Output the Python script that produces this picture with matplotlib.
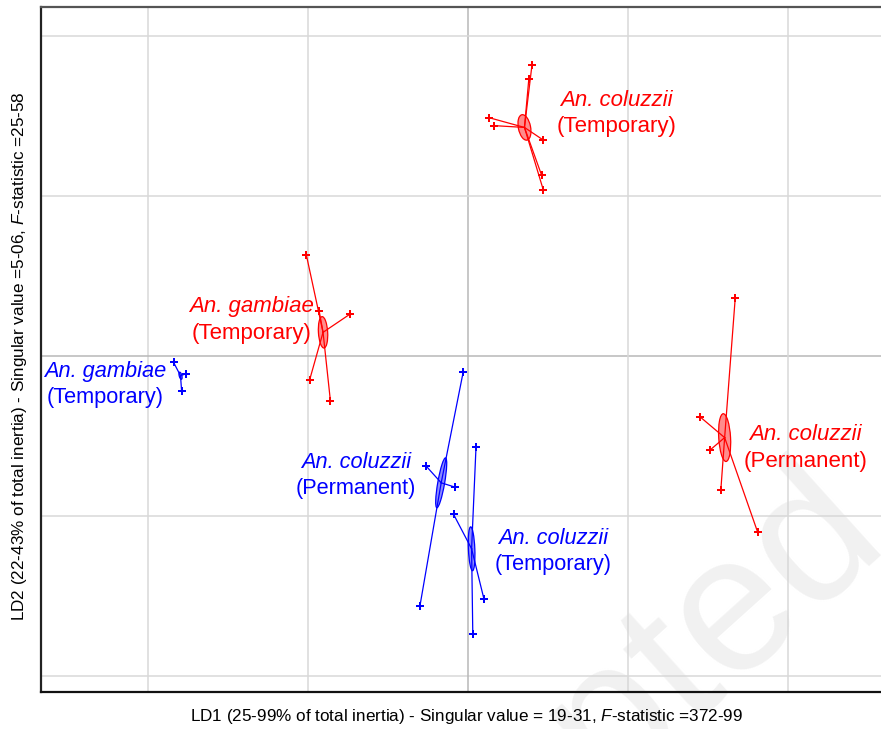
import numpy as np
import matplotlib.pyplot as plt
from matplotlib.patches import Ellipse

plt.rcParams['font.family'] = ['Liberation Sans', 'DejaVu Sans']
plt.rcParams['mathtext.fontset'] = 'custom'
plt.rcParams['mathtext.rm'] = 'Liberation Sans'
plt.rcParams['mathtext.it'] = 'Liberation Sans:italic'

# groups: species, habitat, colour of the set
species = ['An. coluzzii', 'An. gambiae', 'An. coluzzii',
           'An. gambiae', 'An. coluzzii', 'An. coluzzii']
habitat = ['Temporary', 'Temporary', 'Permanent',
           'Temporary', 'Permanent', 'Temporary']
colours = ['red', 'red', 'red', 'blue', 'blue', 'blue']

# LD1 / LD2 scores
ld1 = [[0.40, 0.38, 0.13, 0.16, 0.47, 0.46, 0.47],
       [-1.01, -0.93, -0.74, -0.99, -0.86],
       [1.67, 1.45, 1.51, 1.58, 1.81],
       [-1.84, -1.76, -1.79],
       [-0.03, -0.26, -0.08, -0.30],
       [0.05, -0.09, 0.10, 0.03]]
ld2 = [[1.82, 1.73, 1.49, 1.44, 1.35, 1.13, 1.04],
       [0.63, 0.28, 0.26, -0.15, -0.28],
       [0.36, -0.38, -0.59, -0.84, -1.10],
       [-0.04, -0.11, -0.22],
       [-0.10, -0.69, -0.82, -1.56],
       [-0.57, -0.99, -1.52, -1.74]]

# where the group labels sit
lab_x = [0.93, -1.35, 2.11, -2.27, -0.70, 0.53]
lab_y = [1.516, 0.225, -0.575, -0.18, -0.745, -1.22]

xlab = 'LD1 (25-99% of total inertia) - Singular value = 19-31, $\\mathit{F}$-statistic =372-99'
ylab = 'LD2 (22-43% of total inertia) - Singular value =5-06, $\\mathit{F}$-statistic =25-58'

fig = plt.figure(figsize=(8.81, 7.29), dpi=100)
fig.patch.set_facecolor('white')
ax = fig.add_axes([41/881, 37/729, 849/881, 685/729])
ax.patch.set_alpha(0)

# faint watermark behind everything
fig.text(1.012, 0.252, 'Accepted', rotation=42, rotation_mode='anchor',
         ha='right', va='baseline', fontsize=140, color='#f1f1f1', zorder=-1)

ax.set_xlim(-2.66875, 2.6375)
ax.set_ylim(-2.1, 2.18125)
for v in [-2, -1, 0, 1, 2]:
    c = '#b8b8b8' if v == 0 else '#d8d8d8'
    ax.axvline(v, color=c, lw=1.1, zorder=1)
    ax.axhline(v, color=c, lw=1.1, zorder=1)
ax.set_xticks([])
ax.set_yticks([])
ax.spines['right'].set_visible(False)
ax.spines['top'].set_color('#555555')
for s in ['left', 'bottom', 'top']:
    ax.spines[s].set_linewidth(1.6)
ax.spines['left'].set_color('#222222')
ax.spines['bottom'].set_color('#111111')

for i in range(len(species)):
    x = np.array(ld1[i])
    y = np.array(ld2[i])
    col = colours[i]
    cx, cy = x.mean(), y.mean()
    for px, py in zip(x, y):
        ax.plot([cx, px], [cy, py], color=col, lw=0.9, zorder=3)
    ax.plot(x, y, 'P', color=col, ms=6, mew=0, zorder=4)
    # ellipse from the group covariance
    cov = np.cov(x, y, bias=True)
    vals, vecs = np.linalg.eigh(cov)
    ang = np.degrees(np.arctan2(vecs[1, 1], vecs[0, 1]))
    w = 2 * 0.3 * np.sqrt(vals[1])
    h = 2 * 0.3 * np.sqrt(max(vals[0], 1e-6))
    ax.add_patch(Ellipse((cx, cy), w, h, angle=ang, facecolor=col, alpha=0.45,
                         edgecolor='none', zorder=3))
    ax.add_patch(Ellipse((cx, cy), w, h, angle=ang, facecolor='none',
                         edgecolor=col, lw=0.9, zorder=3))
    fs = 16 if col == 'red' else 15.7
    ax.annotate(species[i], (lab_x[i], lab_y[i]), xytext=(0, 9.5),
                textcoords='offset points', ha='center', va='center',
                color=col, fontsize=fs, style='italic', zorder=5)
    ax.annotate('(' + habitat[i] + ')', (lab_x[i], lab_y[i]), xytext=(0, -9.5),
                textcoords='offset points', ha='center', va='center',
                color=col, fontsize=fs, zorder=5)

fig.text(467/881, 13/729, xlab, ha='center', va='center', fontsize=12.3)
fig.text(20/881, 373/729, ylab, ha='center', va='center', rotation=90, fontsize=12.3)

fig.savefig('out.png', dpi=100)
